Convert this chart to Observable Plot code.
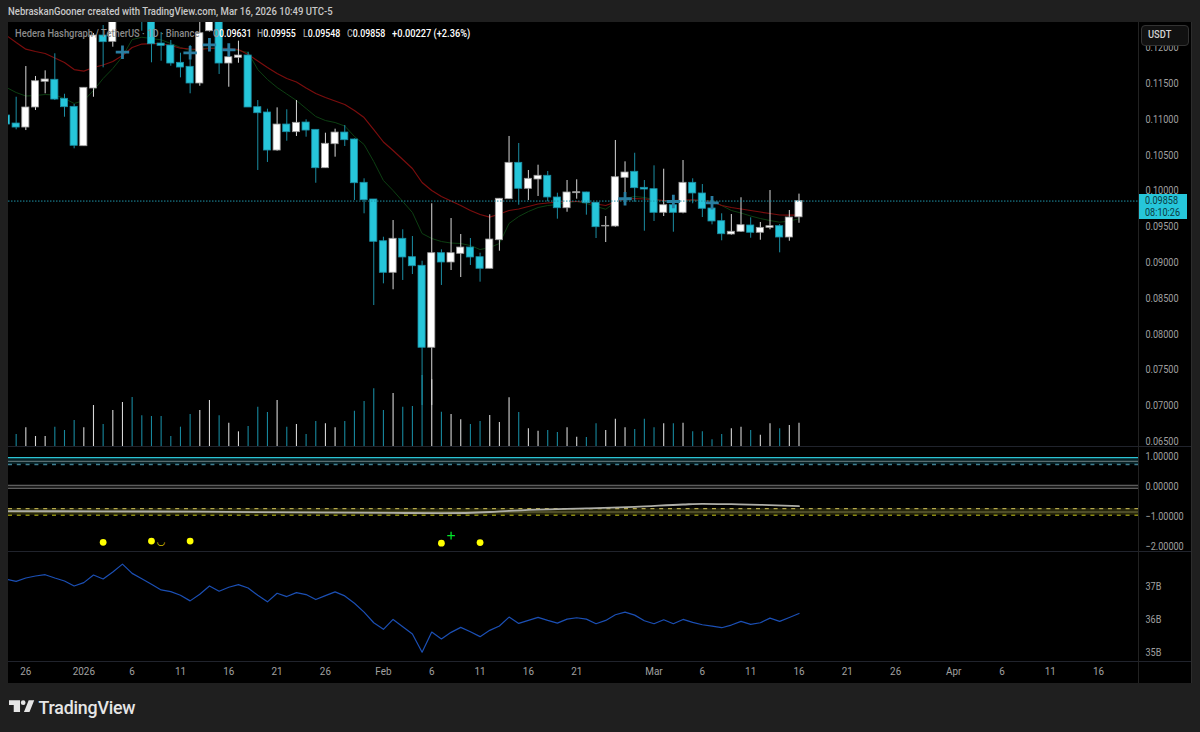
<!DOCTYPE html>
<html>
<head>
<meta charset="utf-8">
<script src="https://cdn.jsdelivr.net/npm/d3@7"></script>
<script src="https://cdn.jsdelivr.net/npm/@observablehq/plot@0.6"></script>
<style>
html,body{margin:0;padding:0;background:#1f1f1f;width:1200px;height:732px;overflow:hidden;font-family:Roboto,"Noto Sans",sans-serif}
#root{position:relative;width:1200px;height:732px}
#frame{position:absolute;left:8px;top:22px;width:1184px;height:661px;background:#000;box-sizing:border-box;}
.pane{position:absolute}
.pane svg{display:block;background:transparent}
.sep{position:absolute;background:#20232c}
.t{position:absolute;white-space:nowrap;transform-origin:left center}
</style>
</head>
<body>
<div id="root">
  <div id="frame"></div>
  <div class="t" style="left:8px;top:5px;font-size:11.2px;font-weight:500;color:#c8c8c8;transform:scaleX(.853)">NebraskanGooner created with TradingView.com, Mar 16, 2026 10:49 UTC-5</div>
  <div id="panes"></div>
  <div class="sep" style="left:8px;top:446px;width:1184px;height:1px"></div>
  <div class="sep" style="left:8px;top:551px;width:1184px;height:1px"></div>
  <div class="sep" style="left:8px;top:661px;width:1184px;height:1px"></div>
  <div class="sep" style="left:1138px;top:22px;width:1px;height:661px;background:#222"></div>
  <div class="sep" style="left:1191px;top:22px;width:1px;height:661px;background:#2c2c2c"></div>
  <div class="t" style="left:14.5px;top:27px;font-size:11px;font-weight:500;color:#8b8b8b;transform:scaleX(.85)">Hedera Hashgraph / TetherUS · 1D · Binance</div>
  <div id="ohlc"></div>
  <div style="position:absolute;left:1141px;top:25px;width:48px;height:21px;background:#111;border:1px solid #333;border-radius:4px;box-sizing:border-box"></div>
  <div class="t" style="left:1148px;top:28px;font-size:11px;font-weight:500;color:#d4d4d4;transform:scaleX(.85)">USDT</div>
  <div style="position:absolute;left:1139px;top:194px;width:47.5px;height:24.5px;background:#26c6da"></div>
  <div class="t" style="left:1145px;top:195px;font-size:11px;line-height:11.5px;color:#0c3940;transform:scaleX(.825)">0.09858<br>08:10:26</div>
  <svg style="position:absolute;left:9px;top:697px" width="26" height="20" viewBox="0 2 33 25"><path fill="#e6e6e6" d="M14 6H0v6h6v9h8V6Zm12 15h-7l6-15h7l-6 15Zm-8-9a3 3 0 1 0 0-6 3 3 0 0 0 0 6Z"/></svg>
  <div class="t" style="left:38.5px;top:697px;font-size:17.8px;font-weight:500;color:#e6e6e6;letter-spacing:-.2px">TradingView</div>
</div>
<script>
// ---------- daily data, 2025-12-24 .. 2026-03-16 (HBAR/USDT)
const open = [.11053,.10941,.10885,.11165,.11524,.11552,.11286,.11174,.10624,.11430,.12170,.12082,.12519,.12729,.12659,.12519,.12058,.12031,.11789,.11733,.11500,.12230,.12519,.11779,.11859,.11891,.11169,.11095,.10564,.10927,.10820,.10955,.10853,.10317,.10652,.10815,.10718,.10113,.09880,.09297,.08856,.09331,.09074,.08954,.07809,.09130,.09000,.09121,.09209,.09074,.08912,.09311,.09884,.10392,.10029,.10159,.10211,.09908,.09758,.09968,.09978,.09834,.09503,.09503,.10183,.10267,.10043,.10024,.09694,.09800,.09694,.10113,.09964,.09754,.09577,.09391,.09429,.09517,.09415,.09484,.09507,.09349,.09631];
const close = [.10927,.10885,.11165,.11532,.11556,.11276,.11169,.10630,.11440,.12170,.12077,.12519,.12729,.12659,.12519,.12049,.12026,.11779,.11723,.11500,.12202,.12519,.11779,.11867,.11891,.11165,.11085,.10564,.10927,.10820,.10951,.10843,.10317,.10658,.10815,.10708,.10107,.09870,.09289,.08856,.09331,.09070,.08948,.07809,.09130,.09000,.09130,.09209,.09070,.08912,.09321,.09890,.10392,.10029,.10169,.10211,.09908,.09758,.09978,.09982,.09828,.09493,.09512,.10191,.10257,.10038,.10019,.09694,.09800,.09694,.10113,.09964,.09750,.09573,.09395,.09429,.09521,.09415,.09484,.09507,.09349,.09628,.09858];
const high = [.11095,.11308,.11737,.11598,.11677,.11915,.11350,.11207,.11440,.12198,.12310,.12589,.12771,.12800,.12700,.12589,.12212,.12100,.11923,.12031,.12352,.12589,.12589,.12044,.12091,.11937,.11262,.11141,.11160,.11133,.11262,.10993,.10853,.10806,.10862,.10913,.10727,.10169,.09880,.09353,.09586,.09457,.09363,.09018,.09820,.09177,.09614,.09391,.09335,.09130,.09666,.09894,.10760,.10662,.10285,.10359,.10271,.09968,.10145,.10155,.09982,.09838,.09642,.10704,.10406,.10526,.10145,.10350,.10303,.09866,.10424,.10169,.10089,.09866,.09680,.09670,.09904,.09624,.09559,.10005,.09531,.09726,.09955];
const low = [.10899,.10853,.10843,.11123,.11356,.11262,.11029,.10588,.10624,.11308,.11719,.12007,.12450,.12547,.12230,.11789,.11811,.11741,.11579,.11356,.11462,.12219,.11626,.11448,.11783,.11165,.10285,.10397,.10554,.10694,.10760,.10750,.10107,.10317,.10471,.10620,.09866,.09680,.08399,.08702,.08619,.08749,.08832,.07003,.07003,.08679,.08888,.08790,.08958,.08725,.08912,.09158,.09880,.09800,.09866,.09922,.09848,.09605,.09702,.09884,.09661,.09335,.09279,.09493,.09866,.09842,.09437,.09573,.09642,.09423,.09680,.09820,.09628,.09526,.09303,.09381,.09419,.09339,.09311,.09457,.09135,.09297,.09548];
const volume = [30,36,56,30,30,58,48,78,56,123,66,108,132,147,92,90,90,30,58,96,108,138,92,70,44,60,118,102,138,58,66,36,75,68,56,75,106,135,173,108,159,118,120,213,200,103,96,80,66,75,93,72,146,102,53,46,48,42,56,28,27,68,48,82,56,51,82,56,68,68,70,44,44,20,36,53,58,48,34,68,53,63,70];
const maRed = [.12170,.12072,.11979,.11947,.11919,.11856,.11793,.11695,.11672,.11723,.11758,.11807,.11891,.12003,.12051,.12058,.12058,.12031,.11993,.11982,.11975,.11989,.11996,.11989,.11975,.11905,.11814,.11723,.11639,.11570,.11521,.11437,.11360,.11304,.11255,.11207,.11123,.11025,.10857,.10683,.10564,.10438,.10313,.10117,.10005,.09922,.09859,.09796,.09726,.09670,.09633,.09677,.09726,.09747,.09782,.09817,.09831,.09842,.09852,.09852,.09845,.09817,.09796,.09845,.09887,.09894,.09887,.09880,.09866,.09866,.09873,.09876,.09866,.09852,.09796,.09768,.09747,.09726,.09705,.09684,.09663,.09662,.09661];
const maGreen = [.11444,.11374,.11325,.11332,.11346,.11339,.11290,.11221,.11262,.11402,.11570,.11709,.11877,.12114,.12146,.12128,.12110,.12058,.12003,.11961,.11982,.11998,.11989,.11982,.11961,.11933,.11695,.11556,.11444,.11353,.11262,.11151,.11039,.10983,.10955,.10906,.10760,.10648,.10410,.10145,.10005,.09852,.09698,.09405,.09335,.09293,.09272,.09265,.09237,.09181,.09209,.09265,.09545,.09642,.09712,.09768,.09796,.09810,.09838,.09852,.09824,.09782,.09744,.09838,.09894,.09922,.09908,.09880,.09859,.09856,.09859,.09866,.09866,.09866,.09796,.09726,.09691,.09649,.09614,.09586,.09563,.09579,.09610];
const marketCap = [37.21,37.15,37.25,37.31,37.35,37.25,37.16,37.01,37.11,37.34,37.22,37.43,37.67,37.39,37.23,37.06,36.89,36.84,36.73,36.56,36.76,37.01,36.85,36.97,37.05,36.95,36.73,36.53,36.79,36.69,36.81,36.75,36.60,36.72,36.83,36.71,36.49,36.22,35.90,35.70,36.00,35.78,35.56,35.01,35.62,35.41,35.61,35.76,35.63,35.48,35.67,35.80,36.07,35.88,35.97,36.06,35.97,35.89,36.01,36.05,36.01,35.87,35.97,36.14,36.22,36.13,35.96,35.87,35.99,35.87,36.00,35.91,35.84,35.80,35.75,35.83,35.94,35.85,35.90,36.04,35.94,36.06,36.18];

const plusDates = ["2026-01-05","2026-01-12","2026-01-14","2026-01-16","2026-02-26","2026-03-03","2026-03-07"];
const plusPrices = [.11937,.11929,.12040,.11970,.09890,.09852,.09834];

const oscDates = ["2025-12-24","2026-01-03","2026-01-13","2026-01-23","2026-02-02","2026-02-07","2026-02-12","2026-02-14","2026-02-17","2026-02-22","2026-02-27","2026-03-04","2026-03-06","2026-03-09","2026-03-12","2026-03-16"];
const oscValues = [-.81,-.82,-.83,-.85,-.87,-.88,-.84,-.80,-.76,-.72,-.67,-.59,-.567,-.58,-.60,-.647];
const upperSolid = 0.97, upperMid = 0.85, upperDash = 0.74, zeroHi = 0.05, zeroLo = -0.05, lowerDash = -0.73, lowerMid = -0.84, lowerDash2 = -0.95;
const signalDates = ["2026-01-03","2026-01-08","2026-01-12","2026-02-07","2026-02-11"];
const signalValues = [-1.85,-1.81,-1.81,-1.88,-1.86];
const crossDates = ["2026-02-08"], crossValues = [-1.63];
const crescentDates = ["2026-01-09"], crescentValues = [-1.82];

const lastPrice = 0.09858;
const priceTicks = [.065,.07,.075,.08,.085,.09,.095,.10,.105,.11,.115,.12];
const oscTicks = [1,0,-1,-2];
const capTicks = [35,36,37];
const timeTicks = ["2025-12-26","2026-01-01","2026-01-06","2026-01-11","2026-01-16","2026-01-21","2026-01-26","2026-02-01","2026-02-06","2026-02-11","2026-02-16","2026-02-21","2026-03-01","2026-03-06","2026-03-11","2026-03-16","2026-03-21","2026-03-26","2026-04-01","2026-04-06","2026-04-11","2026-04-16"];
const legendItems = [["O","0.09631",213],["H","0.09955",257],["L","0.09548",303],["C","0.09858",347]];

// ---------- tables built from the arrays
const days = d3.utcDay.range(new Date("2025-12-24"), new Date("2026-03-17"));
const candles = days.map((date,i)=>({date,open:open[i],close:close[i],high:high[i],low:low[i],volume:volume[i],red:maRed[i],green:maGreen[i],cap:marketCap[i],up:close[i]>=open[i]}));
const DAY = 864e5, half = 0.37*DAY;
const xDomain = [new Date("2025-12-24T04:58:00Z"), new Date("2026-04-20T04:19:00Z")];
const W = 1183, MR = 52.5;
const cyan="#26c6da", cyanEdge="#1b8da3", whiteEdge="#999", tickColor="#a0a0a0";
const base = {width:W, marginLeft:0, marginRight:MR, marginTop:0, style:{background:"transparent",color:tickColor,fontFamily:"Roboto,sans-serif",fontSize:"11px",overflow:"visible"}};
const xAxisless = {type:"utc",domain:xDomain,axis:null};
const panes = document.getElementById("panes");
function put(svg,top){const d=document.createElement("div");d.className="pane";d.style.left="8px";d.style.top=top+"px";d.append(svg);panes.append(d);
  // the reference's tick labels are narrower than any installed face: condense them in place
  svg.querySelectorAll('g[aria-label="y-axis tick label"] text').forEach(t=>squeeze(t,.825));
  svg.querySelectorAll('g[aria-label="x-axis tick label"] text').forEach(t=>squeeze(t,.9));
}
function squeeze(t,k){t.setAttribute("textLength",t.getComputedTextLength()*k);t.setAttribute("lengthAdjust","spacingAndGlyphs");}

// volume overlay
put(Plot.plot({...base,height:424,marginBottom:0,x:xAxisless,y:{domain:[0,1272],axis:null},marks:[
  Plot.ruleX(candles,{x:"date",y1:0,y2:"volume",stroke:d=>d.up?"#d6d6d6":"#17879d",strokeWidth:1.1,clip:true})
]}),22);

// price pane
const pDomain=[.0643,.12352];
put(Plot.plot({...base,height:424,marginBottom:0,x:xAxisless,y:{domain:pDomain,axis:null},marks:[
  Plot.axisY({anchor:"right",ticks:priceTicks,tickFormat:d3.format(".5f"),tickSize:0,tickPadding:6.5,label:null,fill:tickColor,fontSize:11}),
  Plot.line(candles,{x:"date",y:"green",stroke:"#0d3f12",strokeWidth:1,clip:true}),
  Plot.line(candles,{x:"date",y:"red",stroke:"#7a0d0d",strokeWidth:1.2,clip:true}),
  Plot.ruleX(candles,{x:"date",y1:"low",y2:"high",stroke:d=>d.up?"#d8d8d8":cyanEdge,strokeWidth:1,clip:true}),
  Plot.rect(candles,{x1:d=>new Date(+d.date-half),x2:d=>new Date(+d.date+half),y1:"open",y2:"close",fill:d=>d.up?"#fff":cyan,stroke:d=>d.up?whiteEdge:cyanEdge,strokeWidth:.8,clip:true}),
  Plot.dot(plusDates.map((d,i)=>({date:new Date(d),p:plusPrices[i]})),{x:"date",y:"p",symbol:"plus",r:4.4,stroke:"#2a7ea2",strokeWidth:2.8,clip:true}),
  Plot.ruleY([lastPrice],{stroke:"#1f93a8",strokeWidth:1,strokeDasharray:"1.5 1.5"})
]}),22);

// oscillator pane
const oscBand=(a,b,fill,opacity)=>Plot.rect([0],{x1:xDomain[0],x2:xDomain[1],y1:a,y2:b,fill,fillOpacity:opacity});
put(Plot.plot({...base,height:104,marginBottom:0,x:xAxisless,y:{domain:[-2.157,1.31],axis:null},marks:[
  Plot.axisY({anchor:"right",ticks:oscTicks,tickFormat:d3.format(".5f"),tickSize:0,tickPadding:6.5,label:null,fill:tickColor,fontSize:11}),
  oscBand(upperDash,upperSolid,"#0d3a42",.55),
  oscBand(zeroLo,zeroHi,"#1c1c1c",.9),
  oscBand(lowerDash2,lowerDash,"#2d2d0c",.8),
  Plot.ruleY([upperSolid],{stroke:"#2bc3d4",strokeWidth:1.2}),
  Plot.ruleY([upperMid],{stroke:"#5a6d70",strokeWidth:1.2}),
  Plot.ruleY([upperDash],{stroke:"#3f7f92",strokeWidth:1.5,strokeDasharray:"4 4.8"}),
  Plot.ruleY([zeroHi,zeroLo],{stroke:"#5c5c5c",strokeWidth:1.2}),
  Plot.ruleY([lowerDash],{stroke:"#b5a84c",strokeWidth:1.2,strokeDasharray:"4 4.8"}),
  Plot.ruleY([lowerMid],{stroke:"#5c5b34",strokeWidth:1.3}),
  Plot.ruleY([lowerDash2],{stroke:"#8a8a12",strokeWidth:1.5,strokeDasharray:"4 4.8"}),
  Plot.line(oscDates.map((d,i)=>({date:new Date(d),v:oscValues[i]})),{x:"date",y:"v",stroke:"#aeaea8",strokeWidth:1.8,curve:"monotone-x",clip:true}),
  Plot.dot(signalDates.map((d,i)=>({date:new Date(d),v:signalValues[i]})),{x:"date",y:"v",r:3.4,fill:"#ffff00"}),
  Plot.dot(crossDates.map((d,i)=>({date:new Date(d),v:crossValues[i]})),{x:"date",y:"v",symbol:"plus",r:2.6,stroke:"#00e62a",strokeWidth:1.3}),
  Plot.text(crescentDates.map((d,i)=>({date:new Date(d),v:crescentValues[i]})),{x:"date",y:"v",text:()=>"◡",fill:"#e6d800",fontSize:10,fontFamily:"DejaVu Sans"})
]}),447);

// market-cap pane with the shared time axis
const timeFmt=d=>{const m=d.getUTCMonth(),n=d.getUTCDate();if(n!==1)return String(n);return m===0?String(d.getUTCFullYear()):d3.utcFormat("%b")(d)};
put(Plot.plot({...base,height:131,marginBottom:21,x:{type:"utc",domain:xDomain,axis:null},y:{domain:[34.70,38.02],axis:null},marks:[
  Plot.axisY({anchor:"right",ticks:capTicks,tickFormat:d=>d+"B",tickSize:0,tickPadding:6.5,label:null,fill:tickColor,fontSize:11}),
  Plot.axisX({anchor:"bottom",ticks:timeTicks.map(d=>new Date(d)),tickFormat:timeFmt,tickSize:0,tickPadding:5,label:null,fill:tickColor,fontSize:11}),
  Plot.line(candles,{x:"date",y:"cap",stroke:"#1b4fb4",strokeWidth:1.2,clip:true})
]}),552);

// OHLC legend text
const o=document.getElementById("ohlc");
legendItems.forEach(([k,v,x])=>{const s=document.createElement("div");s.className="t";s.style.cssText=`left:${x}px;top:27px;font-size:11px;font-weight:500;color:#fff;transform:scaleX(.8)`;s.innerHTML=`<span style="color:#9a9a9a">${k}</span>${v}`;o.append(s);});
const ch=document.createElement("div");ch.className="t";ch.style.cssText="left:392px;top:27px;font-size:11px;font-weight:500;color:#fff;transform:scaleX(.84)";ch.textContent="+0.00227 (+2.36%)";o.append(ch);
</script>
</body>
</html>
